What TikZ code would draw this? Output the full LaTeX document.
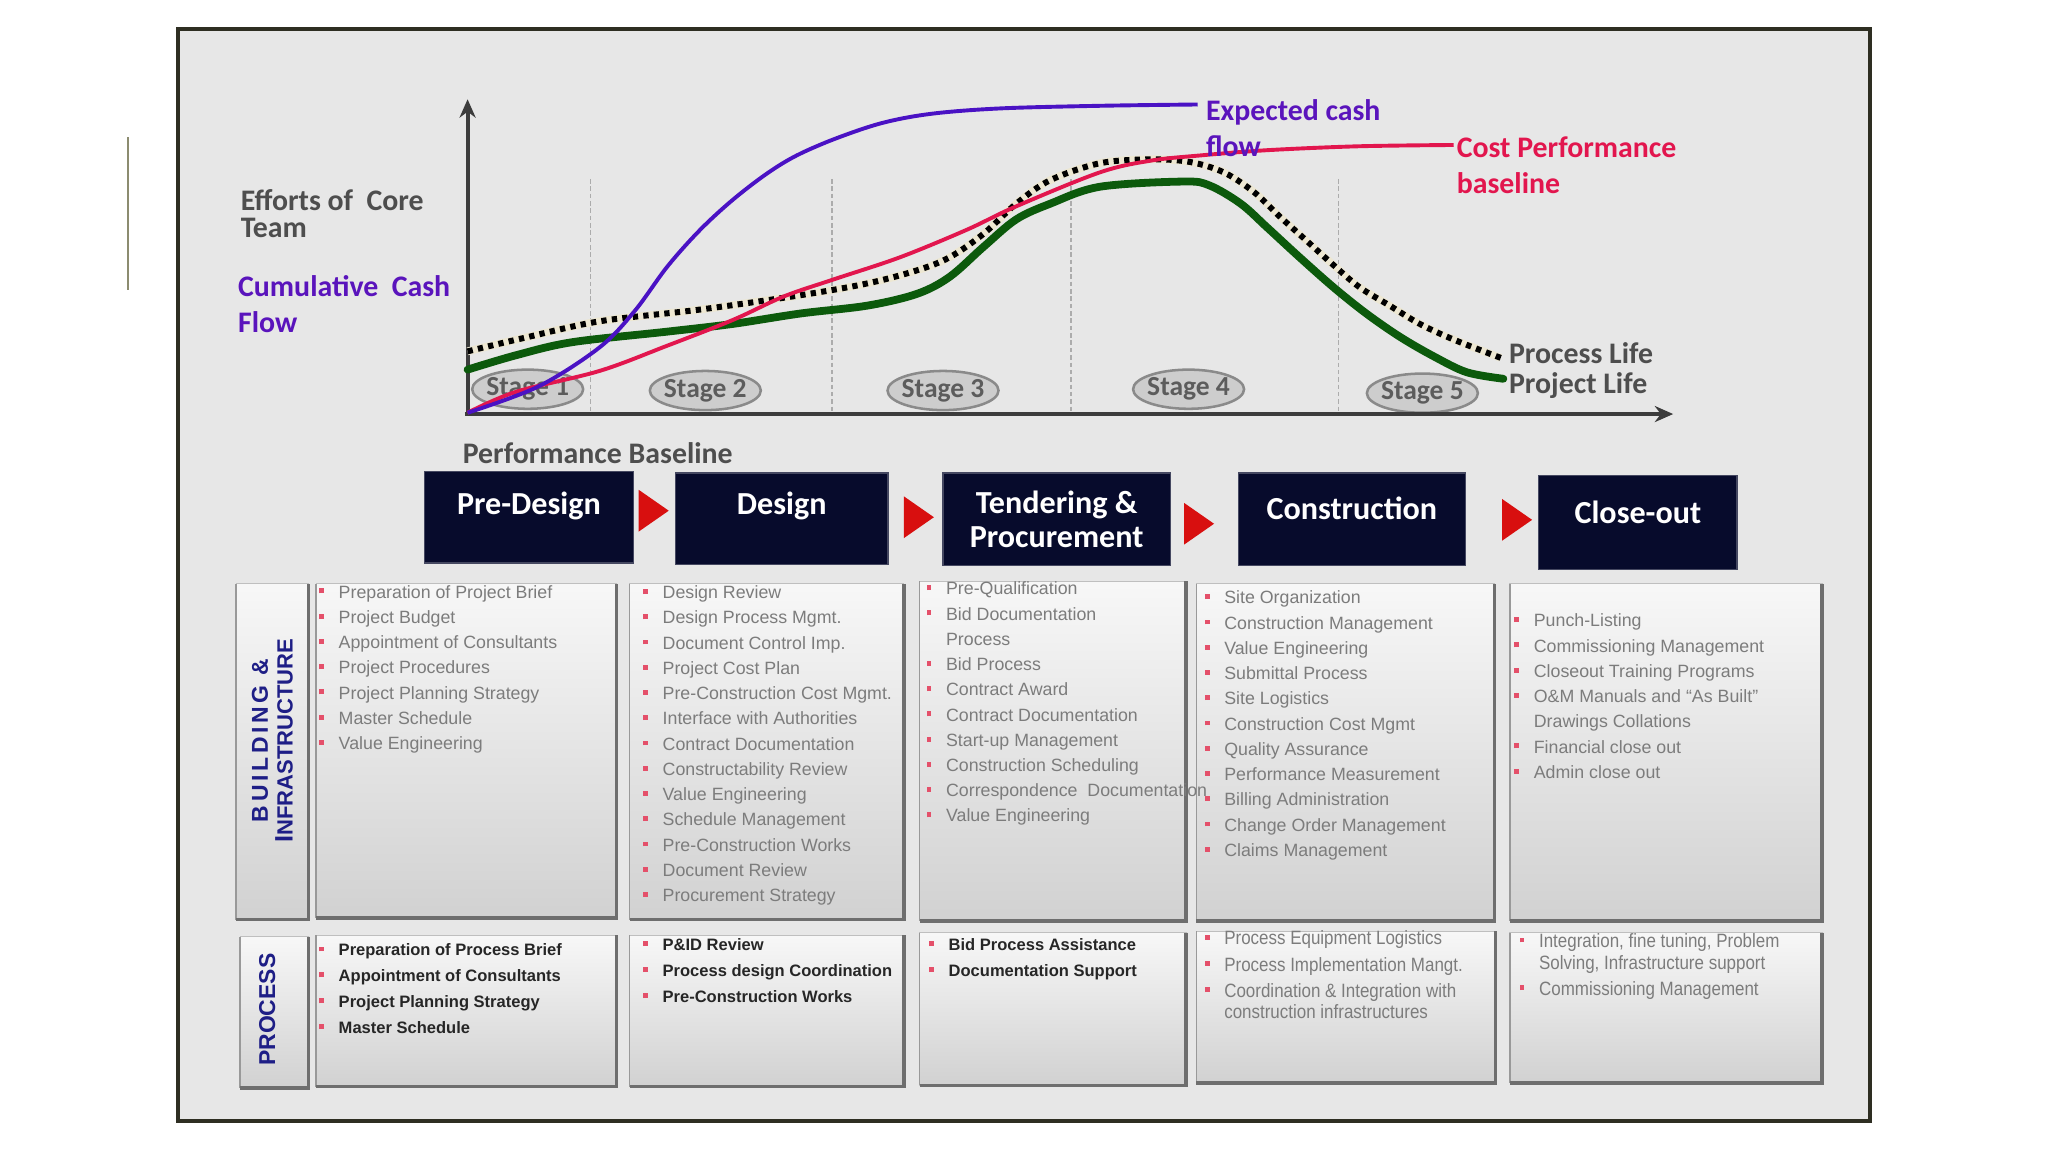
\documentclass[tikz,border=0pt]{standalone}
\usepackage{fontspec}
\setmainfont{Liberation Sans}
\newfontfamily\calib{Carlito}
\newfontfamily\narrowsans[FakeStretch=0.88]{Liberation Sans}
\usepackage{tikz}
\usetikzlibrary{calc, arrows.meta, positioning, shapes.geometric}
\usepackage{xcolor}
\definecolor{framebg}{HTML}{E7E7E7}
\definecolor{framedk}{HTML}{2E2E22}
\definecolor{accentline}{HTML}{8C8C70}
\definecolor{cashblue}{HTML}{4A12C4}
\definecolor{cashlab}{HTML}{5A14BC}
\definecolor{costred}{HTML}{E2164E}
\definecolor{lifegreen}{HTML}{0C5A0C}
\definecolor{dotband}{HTML}{EDE7D2}
\definecolor{axisgray}{HTML}{3C3C3C}
\definecolor{labgray}{HTML}{4E4E4E}
\definecolor{stagefill}{HTML}{CDCDCD}
\definecolor{stageline}{HTML}{8A8A8A}
\definecolor{stagetext}{HTML}{5C5C5C}
\definecolor{phasenavy}{HTML}{070B2C}
\definecolor{arrowred}{HTML}{D80F0F}
\definecolor{itemgray}{HTML}{7C7C7C}
\definecolor{bulletred}{HTML}{E4506A}
\definecolor{rownavy}{HTML}{1E1E86}
\newcommand{\bl}{\strut\makebox[0.3cm][l]{\textcolor{bulletred}{\rule[0.5ex]{0.75mm}{0.75mm}}}}
\newcommand{\nbl}{\strut\hspace*{0.3cm}}

\begin{document}
\begin{tikzpicture}[x=0.02cm, y=-0.02cm,
  axis/.style={axisgray, line width=1.7pt, -{Stealth[length=8pt, width=7pt]}},
  stage/.style={ellipse, fill=stagefill, draw=stageline, line width=1.1pt,
    minimum width=1.7cm, minimum height=0.6cm, inner sep=0},
  stagetxt/.style={text=stagetext, inner sep=0, font=\calib\bfseries\fontsize{12}{12}\selectfont},
  chartlab/.style={anchor=west, align=left, inner sep=0, font=\calib\bfseries\fontsize{13}{15.5}\selectfont},
  phase/.style={fill=phasenavy, draw=phasenavy!75!white, line width=0.6pt, inner sep=0},
  phasetxt/.style={text=white, align=center, inner sep=0, font=\calib\bfseries\fontsize{14}{14.8}\selectfont},
  panelfill/.style={top color=gray!6, middle color=gray!14, bottom color=gray!36},
  panelrim/.style={black!57, line width=1.5pt},
  items/.style={anchor=north west, align=left, inner sep=0, text=itemgray, font=\fontsize{7.75}{11}\selectfont},
  itemsdark/.style={anchor=north west, align=left, inner sep=0, text=black!85, font=\bfseries\fontsize{7.2}{11.3}\selectfont},
  itemsnarrow/.style={anchor=north west, align=left, inner sep=0, text=itemgray, font=\narrowsans\fontsize{8.4}{9.4}\selectfont},
  rowlab/.style={rotate=90, align=center, inner sep=0, text=rownavy, font=\bfseries\fontsize{10}{10.8}\selectfont}]
  \useasboundingbox (0,0) rectangle (1568,882);
  \fill[white] (0,0) rectangle (1568,882);
  % slide frame
  \draw[framedk, line width=1.7pt, fill=framebg] (136,22) rectangle (1432,858);
  \draw[accentline, line width=0.9pt] (98,105) -- (98,222);

  % stage separators and bubbles
  \foreach \sx in {452,637,820,1025}
    \draw[gray!65, line width=0.6pt, dash pattern=on 2pt off 1.2pt] (\sx,137) -- (\sx,317);
  \foreach \i/\sx/\sy in {1/404/298, 2/540/299, 3/722/299, 4/910/298, 5/1089/301}{
    \node[stage] (st\i) at (\sx,\sy) {};
    \node[stagetxt] (st\i t) at (st\i) {Stage \i};
  }
  % axes
  \draw[axis] (358,318) -- (358,76);
  \draw[axis] (356,317) -- (1281,317);

  % project life (green)
  \draw[lifegreen, line width=3.4pt, line cap=round] plot[smooth, tension=0.55] coordinates {
    (358,283) (395,272) (438,262) (510,254) (561,248) (613,240) (664,234) (702,225)
    (727,212) (753,189) (778,168) (804,156) (842,143) (906,139) (926,142) (950,156)
    (970,174) (995,197) (1021,220) (1046,240) (1072,258) (1098,273) (1123,285) (1151,290)};
  % process life (dotted)
  \draw[dotband, line width=3.4pt, postaction={draw=black, line width=2.6pt, dash pattern=on 2.3pt off 2.3pt}]
    plot[smooth, tension=0.55] coordinates {
    (358,269) (400,259) (459,246) (536,237) (613,226) (664,217) (702,207) (727,197)
    (753,179) (778,156) (804,138) (842,125) (881,122) (911,124) (937,132) (960,147)
    (980,166) (1000,184) (1021,203) (1041,220) (1064,234) (1087,248) (1113,260) (1149,274)};
  % cost performance baseline
  \draw[costred, line width=1.7pt] plot[smooth, tension=0.55] coordinates {
    (358,316) (395,300) (459,284) (510,265) (561,245) (600,227) (638,214) (689,197)
    (740,176) (778,158) (842,132) (881,123) (919,119) (970,115) (1040,112) (1113,111)};
  % expected cash flow
  \draw[cashblue, line width=1.7pt] plot[smooth, tension=0.55] coordinates {
    (358,316) (412,296) (459,266) (486,238) (511,204) (536,176) (561,153) (587,133)
    (610,119) (640,106) (676,94) (714,87) (766,83) (842,81) (917,80)};

  % chart labels
  \node[chartlab, text=labgray, font=\calib\bfseries\fontsize{13}{12}\selectfont] (effort) at (184,163.5) {Efforts of\ \ Core\\Team};
  \node[chartlab, text=cashlab] (cumcash) at (182,233) {Cumulative\ \ Cash\\Flow};
  \node[chartlab, text=cashlab, font=\calib\bfseries\fontsize{13}{15.8}\selectfont] (expcash) at (923,98) {Expected cash\\flow};
  \node[chartlab, text=costred] (costbl) at (1115,126.5) {Cost Performance\\baseline};
  \node[chartlab, text=labgray] (proclife) at (1155,270) {Process Life};
  \node[chartlab, text=labgray] (projlife) at (1155,295) {Project Life};
  \node[chartlab, text=labgray] (perfbl) at (354,347) {Performance Baseline};

  % phase boxes
  \node[phase, minimum width=3.2cm, minimum height=1.4cm] (pd) at (405,396) {};
  \node[phase, minimum width=3.26cm, minimum height=1.4cm] (ds) at (598.5,397) {};
  \node[phase, minimum width=3.48cm, minimum height=1.42cm] (tp) at (809,397.5) {};
  \node[phase, minimum width=3.48cm, minimum height=1.42cm] (cn) at (1035,397.5) {};
  \node[phase, minimum width=3.04cm, minimum height=1.44cm] (co) at (1254,400) {};
  \node[phasetxt] (pdt) at ($(pd.center)+(0,-9)$) {Pre-Design};
  \node[phasetxt] (dst) at ($(ds.center)+(0,-10)$) {Design};
  \node[phasetxt] (tpt) at (tp.center) {Tendering \&\\Procurement};
  \node[phasetxt] (cnt) at ($(cn.center)+(0,-8.5)$) {Construction};
  \node[phasetxt] (cot) at ($(co.center)+(0,-8)$) {Close-out};
  \foreach \ax/\ay in {500/391, 703/396, 917.5/401, 1161/398}
    \fill[arrowred] (\ax-11,\ay-16) -- (\ax+12,\ay) -- (\ax-11,\ay+16) -- cycle;

  % task panels
  \foreach \xa/\ya/\xb/\yb in {181/447/236/704, 242/447/472/703, 482/447/692/704,
      704/445/908/705, 916/447/1144/705, 1156/447/1395/705,
      184/717/236/833, 242/716/472/832, 482/716/692/832,
      704/714/908/831, 916/713/1145/829, 1156/714/1395/829}{
    \shade[panelfill] (\xa,\ya) rectangle (\xb,\yb);
    \draw[gray!50, line width=0.5pt] (\xa,\ya) rectangle (\xb,\yb);
    \draw[black!40, line width=0.8pt] (\xa,\ya) -- (\xa,\yb);
    \draw[panelrim] (\xb,\ya) -- (\xb,\yb) -- (\xa,\yb);
  }
  \node[rowlab] (bilab) at (208.5,567) {{\addfontfeature{LetterSpace=16}BUILDING \&}\\{\fontsize{11}{10.8}\selectfont I}{\fontsize{9.6}{10.8}\selectfont NFRASTRUCTURE}};
  \node[rowlab] (prlab) at (204.5,773) {PROCESS};

  % building & infrastructure tasks
  \node[items] (pdlist) at (244,444) {\bl Preparation of Project Brief\\\bl Project Budget\\\bl Appointment of Consultants\\\bl Project Procedures\\\bl Project Planning Strategy\\\bl Master Schedule\\\bl Value Engineering};
  \node[items] (dslist) at (492,444.5) {\bl Design Review\\\bl Design Process Mgmt.\\\bl Document Control Imp.\\\bl Project Cost Plan\\\bl Pre-Construction Cost Mgmt.\\\bl Interface with Authorities\\\bl Contract Documentation\\\bl Constructability Review\\\bl Value Engineering\\\bl Schedule Management\\\bl Pre-Construction Works\\\bl Document Review\\\bl Procurement Strategy};
  \node[items] (tplist) at (709,441.5) {\bl Pre-Qualification\\\bl Bid Documentation\\\nbl Process\\\bl Bid Process\\\bl Contract Award\\\bl Contract Documentation\\\bl Start-up Management\\\bl Construction Scheduling\\\bl Correspondence\ \ Documentation\\\bl Value Engineering};
  \node[items] (cnlist) at (922,448.5) {\bl Site Organization\\\bl Construction Management\\\bl Value Engineering\\\bl Submittal Process\\\bl Site Logistics\\\bl Construction Cost Mgmt\\\bl Quality Assurance\\\bl Performance Measurement\\\bl Billing Administration\\\bl Change Order Management\\\bl Claims Management};
  \node[items] (colist) at (1159,466) {\bl Punch-Listing\\\bl Commissioning Management\\\bl Closeout Training Programs\\\bl O\&M Manuals and ``As Built''\\\nbl Drawings Collations\\\bl Financial close out\\\bl Admin close out};

  % process tasks
  \node[itemsdark] (pdproc) at (244,717.5) {\bl Preparation of Process Brief\\\bl Appointment of Consultants\\\bl Project Planning Strategy\\\bl Master Schedule};
  \node[itemsdark] (dsproc) at (492,713.5) {\bl P\&ID Review\\\bl Process design Coordination\\\bl Pre-Construction Works};
  \node[itemsdark] (tpproc) at (711,713.5) {\bl Bid Process Assistance\\\bl Documentation Support};
  \node[itemsnarrow] (cnproc) at (922,711.5) {\bl Process Equipment Logistics\\[2pt]\bl Process Implementation Mangt.\\[2pt]\bl Coordination \& Integration with\\\nbl construction infrastructures};
  \node[itemsnarrow] (coproc) at (1163,713.5) {\bl Integration, fine tuning, Problem\\\nbl Solving, Infrastructure support\\[2pt]\bl Commissioning Management};
\end{tikzpicture}
\end{document}
